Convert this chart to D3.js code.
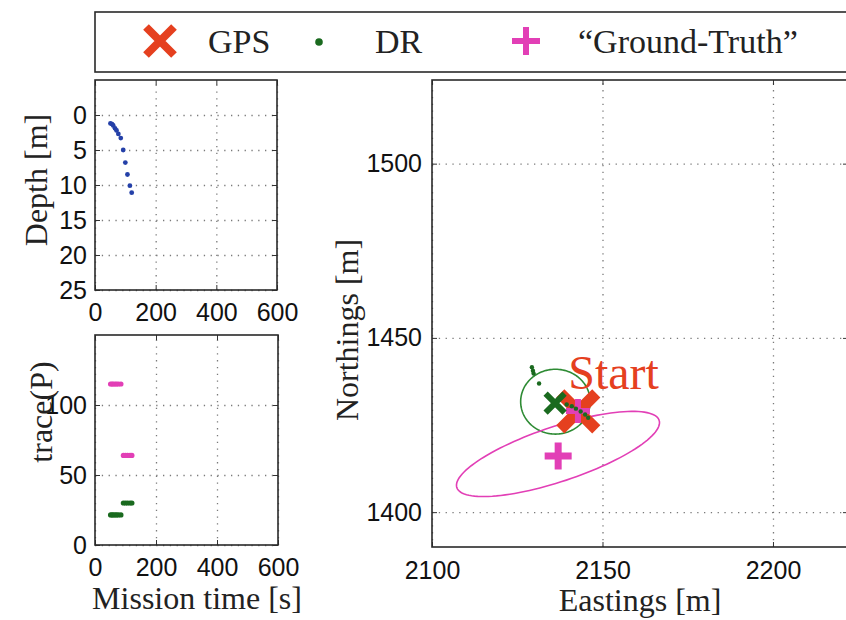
<!DOCTYPE html>
<html>
<head>
<meta charset="utf-8">
<script src="https://cdn.jsdelivr.net/npm/d3@7"></script>
<style>
	body { margin: 0; background: #fff; }
	svg { display: block; }
</style>
</head>
<body>
<script>
// depth profile (mission time vs depth)
var depthTime = [51, 56, 60, 66, 71, 77, 85, 93, 100, 107, 115, 121];
var depthValue = [1.2, 1.3, 1.5, 1.9, 2.2, 2.7, 3.3, 5.0, 6.8, 8.5, 10.1, 11.1];

// trace of covariance, same time stamps
var traceTime = [51, 56, 60, 66, 71, 77, 85, 93, 100, 107, 115, 121];
var traceGT = [115, 115, 115, 115, 115, 115, 115, 64, 64, 64, 64, 64];
var traceDR = [21.5, 21.5, 21.5, 21.5, 21.5, 21.5, 21.5, 30, 30, 30, 30, 30];

// plan view
var gpsEast = [2142.9];
var gpsNorth = [1428.9];
var drEast = [2129.3, 2129.6, 2129.8, 2131.4, 2139.5, 2141.0, 2142.2, 2143.6, 2144.9, 2145.8];
var drNorth = [1441.6, 1440.6, 1439.8, 1436.9, 1430.9, 1430.4, 1429.7, 1428.9, 1428.0, 1427.1];
var drEstimate = [2136.1, 1431.3];
var gtEast = [2142.8, 2137.0];
var gtNorth = [1429.0, 1416.1];
// uncertainty ellipses: [centreE, centreN, semiA, semiB, angleDeg]
var drEllipse = [2136.2, 1431.7, 10.2, 9.3, 0];
var gtEllipse = [2136.95, 1416.7, 31.2, 7.9, 18];

var depthTicks = [0, 5, 10, 15, 20, 25];
var timeTicks = [0, 200, 400, 600];
var traceTicks = [0, 50, 100];
var eastTicks = [2100, 2150, 2200];
var northTicks = [1400, 1450, 1500];
var legendLabels = ['GPS', 'DR', '\u201cGround-Truth\u201d'];

var svgWidth = 846;
var svgHeight = 620;

var RED = '#e5401f';
var MAGENTA = '#e23fb6';
var DKGREEN = '#1a6a1f';
var GREEN = '#2e8b34';
var BLUE = '#2440a8';
var SERIF = '"Liberation Serif", "DejaVu Serif", serif';
var SANS = '"Liberation Sans", Arial, sans-serif';

function createSvg(parent, height, width) {
	return d3.select(parent)
			 .append('svg')
			 .attr('height', height)
			 .attr('width', width);
}

var svg = createSvg('body', svgHeight, svgWidth);
svg.append('rect')
   .attr('width', svgWidth)
   .attr('height', svgHeight)
   .attr('fill', '#fff');

// grid, ticks, labels and box for one axes
function drawFrame(x, y, xTicks, yTicks, xPad, yPad) {
	var g = svg.append('g');
	var x0 = x.range()[0], x1 = x.range()[1];
	var y0 = y.range()[0], y1 = y.range()[1];
	var fmt = d3.format('d');

	// dotted grid
	g.append('g')
	 .attr('transform', 'translate(0,' + y0 + ')')
	 .call(d3.axisBottom(x).tickValues(xTicks).tickSize(-(y0 - y1)).tickFormat(''))
	 .call(function(s) { s.select('.domain').remove(); })
	 .selectAll('line')
	 .attr('class', 'grid')
	 .attr('stroke', '#7a7a7a')
	 .attr('stroke-width', 1.3)
	 .attr('stroke-dasharray', '1.3,5.5');
	g.append('g')
	 .attr('transform', 'translate(' + x0 + ',0)')
	 .call(d3.axisLeft(y).tickValues(yTicks).tickSize(-(x1 - x0)).tickFormat(''))
	 .call(function(s) { s.select('.domain').remove(); })
	 .selectAll('line')
	 .attr('class', 'grid')
	 .attr('stroke', '#7a7a7a')
	 .attr('stroke-width', 1.3)
	 .attr('stroke-dasharray', '1.3,5.5');

	// inward ticks with labels
	var bottom = g.append('g')
	 .attr('transform', 'translate(0,' + y0 + ')')
	 .call(d3.axisBottom(x).tickValues(xTicks).tickSizeInner(-5).tickSizeOuter(0).tickPadding(xPad).tickFormat(fmt));
	var left = g.append('g')
	 .attr('transform', 'translate(' + x0 + ',0)')
	 .call(d3.axisLeft(y).tickValues(yTicks).tickSizeInner(-5).tickSizeOuter(0).tickPadding(yPad).tickFormat(fmt));
	g.append('g')
	 .attr('transform', 'translate(0,' + y1 + ')')
	 .call(d3.axisTop(x).tickValues(xTicks).tickSizeInner(-5).tickSizeOuter(0).tickFormat(''));
	g.append('g')
	 .attr('transform', 'translate(' + x1 + ',0)')
	 .call(d3.axisRight(y).tickValues(yTicks).tickSizeInner(-5).tickSizeOuter(0).tickFormat(''));
	g.selectAll('.domain').remove();
	g.selectAll('.tick line:not(.grid)').attr('stroke', '#333');
	[bottom, left].forEach(function(a) {
		a.selectAll('text')
		 .attr('font-family', SANS)
		 .attr('font-size', 25)
		 .attr('fill', '#111');
	});

	g.append('rect')
	 .attr('x', x0)
	 .attr('y', y1)
	 .attr('width', x1 - x0)
	 .attr('height', y0 - y1)
	 .attr('fill', 'none')
	 .attr('stroke', '#2a2a2a')
	 .attr('stroke-width', 1.6);
	return g;
}

function axisLabel(text, px, py, rotate) {
	svg.append('text')
	   .attr('transform', 'translate(' + px + ',' + py + ')' + (rotate ? ' rotate(-90)' : ''))
	   .attr('text-anchor', 'middle')
	   .attr('font-family', SERIF)
	   .attr('font-size', 32)
	   .attr('fill', '#222')
	   .text(text);
}

function cross(g, cx, cy, half, width, color) {
	g.append('path')
	 .attr('d', 'M' + (cx - half) + ',' + (cy - half) + 'L' + (cx + half) + ',' + (cy + half) +
				'M' + (cx - half) + ',' + (cy + half) + 'L' + (cx + half) + ',' + (cy - half))
	 .attr('stroke', color)
	 .attr('stroke-width', width)
	 .attr('fill', 'none');
}

function plus(g, cx, cy, half, width, color) {
	g.append('path')
	 .attr('d', 'M' + (cx - half) + ',' + cy + 'L' + (cx + half) + ',' + cy +
				'M' + cx + ',' + (cy - half) + 'L' + cx + ',' + (cy + half))
	 .attr('stroke', color)
	 .attr('stroke-width', width)
	 .attr('fill', 'none');
}

function ellipsePoints(e) {
	var pts = [];
	var th = e[4] * Math.PI / 180;
	for (var i = 0; i <= 120; i++) {
		var t = 2 * Math.PI * i / 120;
		var u = e[2] * Math.cos(t), v = e[3] * Math.sin(t);
		pts.push([e[0] + u * Math.cos(th) - v * Math.sin(th),
				  e[1] + u * Math.sin(th) + v * Math.cos(th)]);
	}
	return pts;
}

// ---------- legend ----------
var legend = svg.append('g');
legend.append('rect')
	  .attr('x', 95)
	  .attr('y', 12)
	  .attr('width', 800)
	  .attr('height', 60)
	  .attr('fill', '#fff')
	  .attr('stroke', '#2a2a2a')
	  .attr('stroke-width', 1.6);
cross(legend, 160, 41, 14, 8, RED);
legend.append('circle').attr('cx', 319).attr('cy', 42).attr('r', 3.8).attr('fill', DKGREEN);
plus(legend, 526, 41, 14, 6, MAGENTA);
legend.selectAll('text.lg')
	  .data(legendLabels)
	  .enter()
	  .append('text')
	  .attr('class', 'lg')
	  .attr('x', function(d, i) { return [208, 375, 578][i]; })
	  .attr('y', 53)
	  .attr('font-family', SERIF)
	  .attr('font-size', 34)
	  .attr('fill', '#222')
	  .text(function(d) { return d; });

// ---------- depth panel ----------
var xDepth = d3.scaleLinear().domain([0, 600]).range([95, 277]);
var yDepth = d3.scaleLinear().domain([25, -5]).range([290, 80]);
drawFrame(xDepth, yDepth, timeTicks, depthTicks, 13, 8);
svg.append('g')
   .selectAll('circle')
   .data(d3.zip(depthTime, depthValue))
   .enter()
   .append('circle')
   .attr('cx', function(d) { return xDepth(d[0]); })
   .attr('cy', function(d) { return yDepth(d[1]); })
   .attr('r', 2.4)
   .attr('fill', BLUE);
axisLabel('Depth [m]', 47, 180, true);

// ---------- trace panel ----------
var xTrace = d3.scaleLinear().domain([0, 600]).range([95, 278]);
var yTrace = d3.scaleLinear().domain([0, 150]).range([545, 335]);
drawFrame(xTrace, yTrace, timeTicks, traceTicks, 13, 8);
var traceG = svg.append('g');
[[traceGT, MAGENTA], [traceDR, DKGREEN]].forEach(function(s) {
	traceG.append('g')
		  .selectAll('circle')
		  .data(d3.zip(traceTime, s[0]))
		  .enter()
		  .append('circle')
		  .attr('cx', function(d) { return xTrace(d[0]); })
		  .attr('cy', function(d) { return yTrace(d[1]); })
		  .attr('r', 2.6)
		  .attr('fill', s[1]);
});
axisLabel('trace(P)', 52, 412, true);
axisLabel('Mission time [s]', 197, 609, false);

// ---------- plan view ----------
var xMap = d3.scaleLinear().domain([2100, 2222]).range([432, 848]);
var yMap = d3.scaleLinear().domain([1390, 1524]).range([547, 80]);
drawFrame(xMap, yMap, eastTicks, northTicks, 14, 10);
axisLabel('Northings [m]', 358, 330, true);
axisLabel('Eastings [m]', 640, 611, false);

var mapG = svg.append('g');
var ellLine = d3.line()
	.x(function(d) { return xMap(d[0]); })
	.y(function(d) { return yMap(d[1]); });
mapG.append('path')
	.attr('d', ellLine(ellipsePoints(drEllipse)))
	.attr('fill', 'none')
	.attr('stroke', GREEN)
	.attr('stroke-width', 1.6);
mapG.append('path')
	.attr('d', ellLine(ellipsePoints(gtEllipse)))
	.attr('fill', 'none')
	.attr('stroke', MAGENTA)
	.attr('stroke-width', 1.6);

d3.zip(gpsEast, gpsNorth).forEach(function(p) {
	cross(mapG, xMap(p[0]), yMap(p[1]), 18, 11.5, RED);
	mapG.append('text')
		.attr('x', xMap(p[0]) - 10)
		.attr('y', yMap(p[1]) - 22)
		.attr('font-family', SERIF)
		.attr('font-size', 48)
		.attr('fill', RED)
		.text('Start');
});
plus(mapG, xMap(gtEast[0]), yMap(gtNorth[0]), 12, 6, MAGENTA);
plus(mapG, xMap(gtEast[1]), yMap(gtNorth[1]), 13.5, 7, MAGENTA);
cross(mapG, xMap(drEstimate[0]), yMap(drEstimate[1]), 9.5, 6, DKGREEN);
mapG.append('g')
	.selectAll('circle')
	.data(d3.zip(drEast, drNorth))
	.enter()
	.append('circle')
	.attr('cx', function(d) { return xMap(d[0]); })
	.attr('cy', function(d) { return yMap(d[1]); })
	.attr('r', 2.2)
	.attr('fill', DKGREEN);
</script>
</body>
</html>
